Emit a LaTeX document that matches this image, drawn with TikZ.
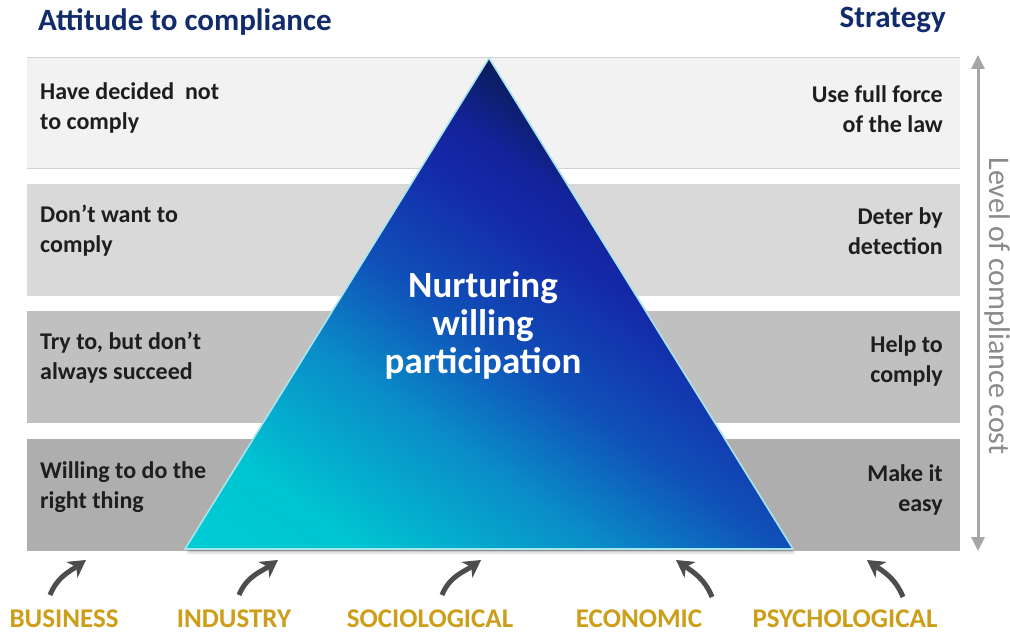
\documentclass[tikz,border=0pt]{standalone}
\usepackage{fontspec}
\setmainfont{Carlito}
\usetikzlibrary{arrows.meta,calc}

% palette
\definecolor{titleblue}{HTML}{112B6B}
\definecolor{bandA}{HTML}{F2F2F2}
\definecolor{bandB}{HTML}{D9D9D9}
\definecolor{bandC}{HTML}{C0C0C0}
\definecolor{bandD}{HTML}{AEAEAE}
\definecolor{bandline}{HTML}{D2D2D2}
\definecolor{bodytext}{HTML}{1E1E1E}
\definecolor{costgray}{HTML}{A6A6A6}
\definecolor{costtext}{HTML}{8A8A8A}
\definecolor{gold}{HTML}{CC9E1A}
\definecolor{curvegray}{HTML}{4D4D4D}
\definecolor{edgecyan}{HTML}{A6E6EE}
% pyramid gradient stops
\definecolor{g0}{HTML}{00CDD5}
\definecolor{g1}{HTML}{00C4D1}
\definecolor{g2}{HTML}{0A8CC8}
\definecolor{g3}{HTML}{1050B8}
\definecolor{g4}{HTML}{1428A8}
\definecolor{g5}{HTML}{13239A}
\definecolor{g6}{HTML}{0A1C58}

\pgfdeclareverticalshading{pyramidshade}{100bp}{%
  color(0bp)=(g0); color(25bp)=(g0); color(34bp)=(g1); color(46bp)=(g2);
  color(55bp)=(g3); color(65bp)=(g4); color(69bp)=(g5); color(75bp)=(g6);
  color(100bp)=(g6)}

\tikzset{
  lefttext/.style={anchor=base west, align=left, inner sep=0pt, text=bodytext,
    font=\bfseries\fontsize{24}{30}\selectfont},
  righttext/.style={anchor=base east, align=right, inner sep=0pt, text=bodytext,
    font=\bfseries\fontsize{24}{30}\selectfont},
  heading/.style={inner sep=0pt, text=titleblue, font=\bfseries\fontsize{31}{36}\selectfont},
  factor/.style={anchor=base, inner sep=0pt, text=gold, font=\bfseries\fontsize{27}{32}\selectfont},
  curvearrow/.style={draw=curvegray, line width=5pt,
    -{Stealth[length=17pt, width=19pt, inset=5pt]}},
  costarrow/.style={draw=costgray, line width=3pt,
    {Triangle[length=14pt, width=13pt]}-{Triangle[length=14pt, width=13pt]}},
}

\begin{document}
\begin{tikzpicture}[x=1pt, y=1pt]
\useasboundingbox (0,0) rectangle (1010,633);
\fill[white] (0,0) rectangle (1010,633);

% horizontal bands
\fill[bandA] (27,464) rectangle (960,575);
\draw[bandline, line width=1pt] (27,575) -- (960,575) (27,464) -- (960,464);
\fill[bandB] (27,337) rectangle (960,449);
\fill[bandC] (27,210) rectangle (960,322);
\fill[bandD] (27,82) rectangle (960,194);

% headings
\node[heading, anchor=base west] (attitude) at (38,602) {Attitude to compliance};
\node[heading, anchor=base east] (strategy) at (946,605) {Strategy};

% attitudes (left) and strategies (right); anchors sit on the last line
\node[lefttext] (att1) at (40,503) {Have decided\ \ not\\to comply};
\node[lefttext] (att2) at (40,380) {Don’t want to\\comply};
\node[lefttext] (att3) at (40,254) {Try to, but don’t\\always succeed};
\node[lefttext] (att4) at (40,125) {Willing to do the\\right thing};

\node[righttext] (str1) at (943,500) {Use full force\\of the law};
\node[righttext] (str2) at (943,378) {Deter by\\detection};
\node[righttext] (str3) at (943,251) {Help to\\comply};
\node[righttext] (str4) at (943,122) {Make it\\easy};

% pyramid
\coordinate (apex) at (489,575);
\coordinate (baseL) at (185,84);
\coordinate (baseR) at (793,84);
\fill[black, opacity=0.10] ($(apex)+(2,-5)$) -- ($(baseL)+(2,-5)$) -- ($(baseR)+(2,-5)$) -- cycle;
\fill[black, opacity=0.10] ($(apex)+(1,-3)$) -- ($(baseL)+(1,-3)$) -- ($(baseR)+(1,-3)$) -- cycle;
\begin{scope}
  \clip (apex) -- (baseL) -- (baseR) -- cycle;
  \begin{scope}[transform canvas={rotate=-35}]
    \shade[shading=pyramidshade] (60,174) rectangle (620,752);
  \end{scope}
\end{scope}
\draw[edgecyan, line width=1.6pt, line join=round] (apex) -- (baseL) -- (baseR) -- cycle;

\node[anchor=base, align=center, inner sep=0pt, text=white,
  font=\bfseries\fontsize{37}{38}\selectfont] (core) at (483,260)
  {Nurturing\\willing\\participation};

% compliance cost axis
\coordinate (costtop) at (978,578);
\coordinate (costbot) at (978,82);
\draw[costarrow] (costtop) -- (costbot);
\node[rotate=-90, inner sep=0pt, text=costtext,
  font=\fontsize{30}{34}\selectfont] (costlabel) at (997,327) {Level of compliance cost};

% influencing factors
\node[factor] (business) at (64,6) {BUSINESS};
\node[factor] (industry) at (234,6) {INDUSTRY};
\node[factor] (socio) at (430,6) {SOCIOLOGICAL};
\node[factor] (econ) at (639,6) {ECONOMIC};
\node[factor] (psych) at (845,6) {PSYCHOLOGICAL};

\coordinate (busT) at (50,38);   \coordinate (busH) at (86,73);
\coordinate (indT) at (239,38);  \coordinate (indH) at (278,73);
\coordinate (socT) at (442,38);  \coordinate (socH) at (481,73);
\coordinate (ecoT) at (712,36);  \coordinate (ecoH) at (676,73);
\coordinate (psyT) at (903,36);  \coordinate (psyH) at (867,73);

\draw[curvearrow] (busT) to[out=68, in=215] (busH);
\draw[curvearrow] (indT) to[out=68, in=215] (indH);
\draw[curvearrow] (socT) to[out=68, in=215] (socH);
\draw[curvearrow] (ecoT) to[out=112, in=-35] (ecoH);
\draw[curvearrow] (psyT) to[out=112, in=-35] (psyH);
\end{tikzpicture}
\end{document}
